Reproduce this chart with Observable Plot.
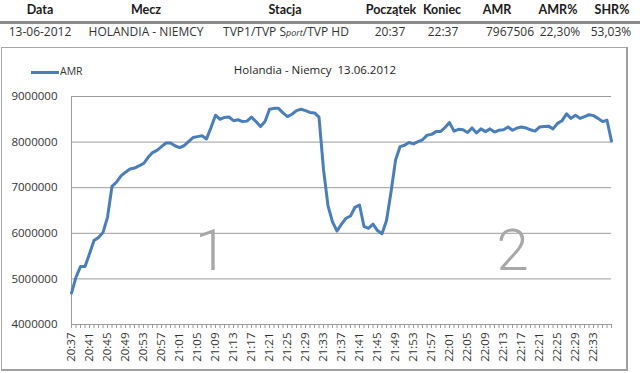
<!DOCTYPE html>
<html><head><meta charset="utf-8">
<script src="https://cdn.jsdelivr.net/npm/d3@7"></script>
<script src="https://cdn.jsdelivr.net/npm/@observablehq/plot@0.6"></script>
<style>
body{margin:0;background:#fff;}
#wrap{position:relative;width:640px;height:373px;overflow:hidden;font-family:"Open Sans",sans-serif;color:#222;background:#fff;}
.h{position:absolute;top:2px;font-family:Lato,sans-serif;font-weight:bold;font-size:12.5px;transform:translateX(-50%);white-space:nowrap;color:#1a1a1a;}
.d{position:absolute;top:23px;font-size:12px;transform:translateX(-50%);white-space:nowrap;color:#333;}
#rule{position:absolute;left:0;top:21px;width:640px;height:3px;background:#8a8a8a;}
#box{position:absolute;left:1px;top:47px;width:624px;height:321px;border:1px solid #a8a8a8;border-right:2px solid #a0a0a0;border-bottom:2px solid #a0a0a0;}
#legline{position:absolute;left:31px;top:71px;width:28px;height:3px;background:#4a7ebb;}
#legtxt{position:absolute;left:60px;top:64px;font-size:10.5px;color:#333;}
#title{position:absolute;left:315px;top:62px;transform:translateX(-50%);font-size:11.5px;color:#222;white-space:nowrap;}
#chart{position:absolute;left:0;top:85px;}
</style></head>
<body><div id="wrap">
<div id="rule"></div>
<div id="box"></div>
<div id="legline"></div>
<div id="legtxt">AMR</div>
<div id="title">Holandia - Niemcy&nbsp; 13.06.2012</div>
<div id="chart"></div>
</div>
<script>
const headers = ["Data","Mecz","Stacja","Początek","Koniec","AMR","AMR%","SHR%"];
const rowValues = ["13-06-2012","HOLANDIA - NIEMCY","TVP1/TVP S<span style='font-size:9px;font-style:italic'>port</span>/TVP HD","20:37","22:37","7967506","22,30%","53,03%"];
const headerX = [40,146,285,391,442,497,558,612];
const rowX = [40,146,286,390,443,510,560,611];

const times = [
"20:37","20:38","20:39","20:40","20:41","20:42","20:43","20:44","20:45","20:46","20:47","20:48","20:49","20:50","20:51","20:52","20:53","20:54","20:55","20:56","20:57","20:58","20:59",
"21:00","21:01","21:02","21:03","21:04","21:05","21:06","21:07","21:08","21:09","21:10","21:11","21:12","21:13","21:14","21:15","21:16","21:17","21:18","21:19","21:20","21:21","21:22","21:23","21:24","21:25","21:26","21:27","21:28","21:29",
"21:30","21:31","21:32","21:33","21:34","21:35","21:36","21:37","21:38","21:39","21:40","21:41","21:42","21:43","21:44","21:45","21:46","21:47","21:48","21:49","21:50","21:51","21:52","21:53","21:54","21:55","21:56","21:57","21:58","21:59",
"22:00","22:01","22:02","22:03","22:04","22:05","22:06","22:07","22:08","22:09","22:10","22:11","22:12","22:13","22:14","22:15","22:16","22:17","22:18","22:19","22:20","22:21","22:22","22:23","22:24","22:25","22:26","22:27","22:28","22:29","22:30","22:31","22:32","22:33","22:34","22:35","22:36","22:37"];

const amr = [
4690000,5040000,5270000,5270000,5550000,5840000,5910000,6020000,6350000,7030000,
7120000,7260000,7340000,7410000,7430000,7480000,7530000,7660000,7770000,7820000,
7900000,7980000,7980000,7920000,7880000,7920000,8010000,8100000,8120000,8140000,
8070000,8320000,8590000,8500000,8540000,8550000,8470000,8490000,8450000,8460000,
8550000,8450000,8340000,8450000,8720000,8740000,8740000,8640000,8560000,8610000,
8690000,8720000,8690000,8650000,8640000,8550000,7400000,6600000,6250000,6050000,
6200000,6330000,6380000,6570000,6620000,6150000,6110000,6200000,6060000,5990000,
6280000,6900000,7600000,7900000,7930000,7990000,7960000,8010000,8050000,8150000,
8170000,8230000,8230000,8320000,8430000,8240000,8280000,8270000,8210000,8310000,
8200000,8290000,8230000,8290000,8220000,8260000,8270000,8330000,8260000,8310000,
8330000,8310000,8270000,8240000,8330000,8340000,8350000,8290000,8410000,8470000,
8620000,8520000,8590000,8520000,8560000,8600000,8580000,8520000,8450000,8480000,
8020000];

const tickLabels = ["20:37","20:41","20:45","20:49","20:53","20:57","21:01","21:05","21:09","21:13","21:17","21:21","21:25","21:29","21:33","21:37","21:41","21:45","21:49","21:53","21:57","22:01","22:05","22:09","22:13","22:17","22:21","22:25","22:29","22:33"];
const yTicks = [4000000,5000000,6000000,7000000,8000000,9000000];

const noteLabels = ["1","2"];
const noteTimes = ["21:08","22:15"];
const noteValues = [5600000,5600000];

const wrap = document.getElementById("wrap");
headers.forEach((h,i)=>{const e=document.createElement("div");e.className="h";e.style.left=headerX[i]+"px";e.textContent=h;wrap.appendChild(e);});
rowValues.forEach((v,i)=>{const e=document.createElement("div");e.className="d";e.style.left=rowX[i]+"px";e.innerHTML=v;wrap.appendChild(e);});

const rows = times.map((t,i)=>({t, v: amr[i]}));
const notes = noteLabels.map((l,i)=>({l, t: noteTimes[i], v: noteValues[i]}));

const chart = Plot.plot({
  width: 640, height: 285,
  marginLeft: 71, marginRight: 29, marginTop: 11, marginBottom: 46,
  style: {fontFamily: "Open Sans, sans-serif", background: "transparent", color: "#333"},
  x: {type: "point", domain: times, padding: 0, label: null},
  y: {domain: [4000000, 9000000], label: null},
  marks: [
    Plot.gridY(yTicks, {stroke: "#9c9c9c", strokeOpacity: 1}),
    Plot.ruleX([times[0]], {stroke: "#9c9c9c"}),
    Plot.axisY({ticks: yTicks, tickFormat: d3.format("d"), tickSize: 0, tickPadding: 14, fontSize: 11.5, fill: "#333", label: null}),
    Plot.axisX({ticks: times, tickFormat: () => "", tickSize: 4, stroke: "#9c9c9c", label: null}),
    Plot.axisX({ticks: tickLabels, tickRotate: -90, tickSize: 0, tickPadding: 8, fontSize: 11.5, fill: "#333", label: null}),
    Plot.text(notes, {x: "t", y: "v", text: "l", fontSize: 58, fontWeight: 300, fontFamily: "Roboto, sans-serif", fill: "#a8a8a8"}),
    Plot.line(rows, {x: "t", y: "v", stroke: "#4a7ebb", strokeWidth: 3})
  ]
});
document.getElementById("chart").appendChild(chart);
</script>
</body></html>
